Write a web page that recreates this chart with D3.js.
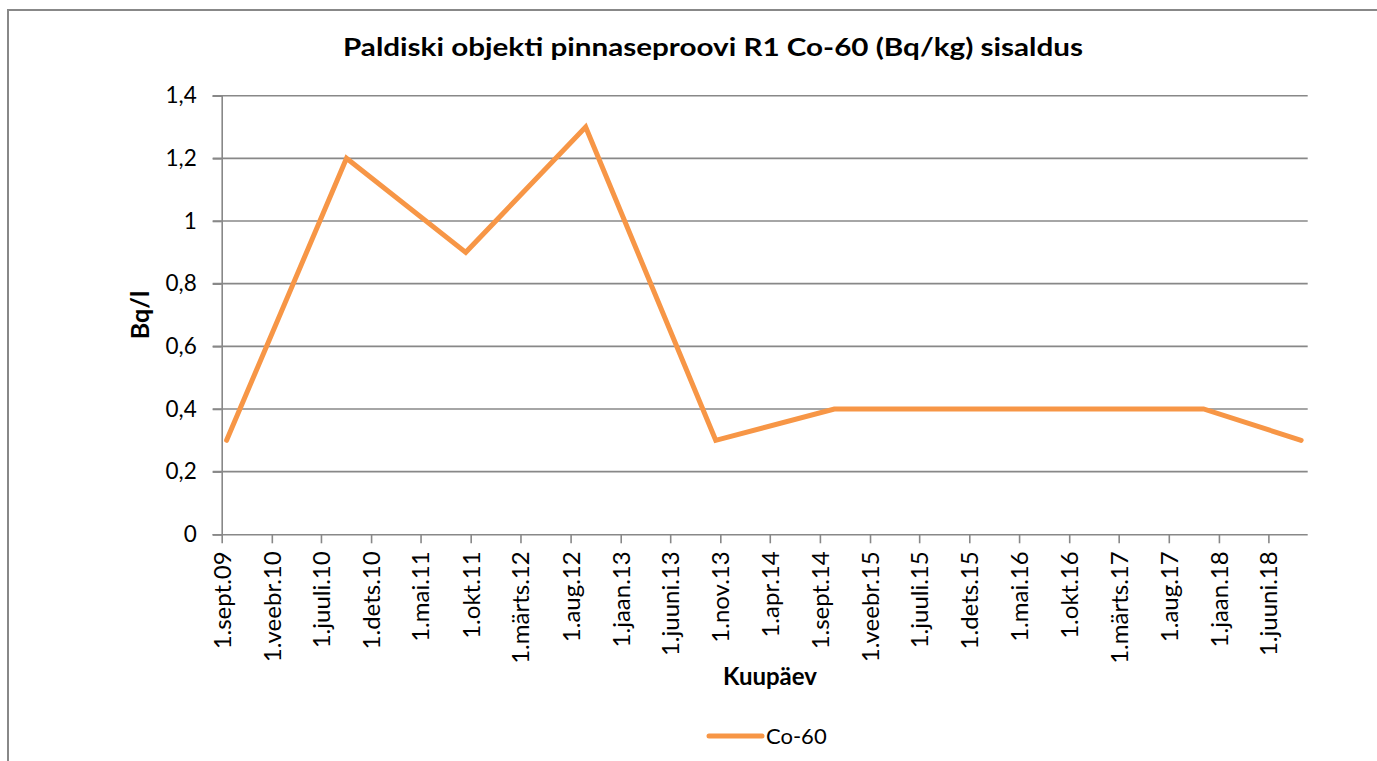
<!DOCTYPE html>
<html>
<head>
<meta charset="utf-8">
<script src="https://cdn.jsdelivr.net/npm/d3@7"></script>
<style>
  html, body { margin: 0; padding: 0; background: #fff; }
  svg { display: block; font-family: Lato, "Open Sans", sans-serif; }
</style>
</head>
<body>
<svg id="chart" width="1377" height="761"></svg>
<script>
// Sampling dates (yyyy-mm-dd) and Co-60 values
const sampleDates = ["2009-09-16", "2010-09-17", "2011-09-16", "2012-09-16", "2013-10-18",
                     "2014-10-15", "2015-10-15", "2016-10-15", "2017-11-15", "2018-09-09"];
const co60Values  = [0.3, 1.2, 0.9, 1.3, 0.3, 0.4, 0.4, 0.4, 0.4, 0.3];
const yTicks = [0, 0.2, 0.4, 0.6, 0.8, 1, 1.2, 1.4];
const monthNames = ["jaan", "veebr", "märts", "apr", "mai", "juuni",
                    "juuli", "aug", "sept", "okt", "nov", "dets"];
const seriesName = "Co-60";
const titleText = "Paldiski objekti pinnaseproovi R1 Co-60 (Bq/kg) sisaldus";
const xTitle = "Kuupäev";
const yTitle = "Bq/l";

const parse = d3.timeParse("%Y-%m-%d");
const data = sampleDates.map((d, i) => ({ date: parse(d), value: co60Values[i] }));

const svg = d3.select("#chart");
const plot = { left: 221.7, right: 1307.7, top: 95.7, bottom: 534.3 };
const axisColor = "#888888";
const lineColor = "#F79646";

// outer frame
svg.append("path")
  .attr("d", "M8,762 L8,10 L1378,10")
  .attr("fill", "none").attr("stroke", axisColor).attr("stroke-width", 2);

const x = d3.scaleTime()
  .domain([new Date(2009, 8, 1), new Date(2018, 8, 29)])
  .range([plot.left, plot.right]);
const y = d3.scaleLinear().domain([0, 1.4]).range([plot.bottom, plot.top]);

// horizontal gridlines
svg.append("g").selectAll("line").data(yTicks.filter(t => t > 0)).join("line")
  .attr("x1", plot.left - 9).attr("x2", plot.right)
  .attr("y1", d => y(d)).attr("y2", d => y(d))
  .attr("stroke", axisColor).attr("stroke-width", 1.6);

// y axis
const fmtY = v => String(v).replace(".", ",");
const yAxis = svg.append("g").attr("transform", `translate(${plot.left},0)`)
  .call(d3.axisLeft(y).tickValues(yTicks).tickFormat(fmtY).tickSize(9).tickPadding(16));
yAxis.select(".domain").attr("stroke", axisColor).attr("stroke-width", 1.6);
yAxis.selectAll(".tick line").attr("stroke", axisColor).attr("stroke-width", 1.6);
yAxis.selectAll(".tick text").attr("font-size", 22.5).attr("fill", "#000")
  .attr("font-family", "Lato, sans-serif");

// x axis: one tick every five months from the first of September 2009
const xTickDates = d3.timeMonth.range(new Date(2009, 8, 1), new Date(2018, 8, 2), 5);
const fmtX = d => `1.${monthNames[d.getMonth()]}.${String(d.getFullYear()).slice(2)}`;
const xAxis = svg.append("g").attr("transform", `translate(0,${plot.bottom})`)
  .call(d3.axisBottom(x).tickValues(xTickDates).tickFormat(fmtX).tickSize(9).tickSizeOuter(0));
xAxis.select(".domain").attr("stroke", axisColor).attr("stroke-width", 1.6)
  .attr("d", `M${plot.left - 9},0.5H${plot.right}`);
xAxis.selectAll(".tick line").attr("stroke", axisColor).attr("stroke-width", 1.6);
xAxis.selectAll(".tick text")
  .attr("font-size", 24).attr("fill", "#000").attr("font-family", "Lato, sans-serif")
  .attr("transform", "rotate(-90)")
  .attr("text-anchor", "end")
  .attr("x", -17).attr("y", 0).attr("dy", "0.35em");

// series line
svg.append("path").datum(data)
  .attr("d", d3.line().x(d => x(d.date)).y(d => y(d.value)))
  .attr("fill", "none").attr("stroke", lineColor).attr("stroke-width", 5)
  .attr("stroke-linejoin", "miter").attr("stroke-linecap", "round");

// titles
svg.append("text").attr("x", 713).attr("y", 56).attr("text-anchor", "middle")
  .attr("font-size", 25).attr("font-weight", "bold").attr("fill", "#000")
  .attr("textLength", 740).attr("lengthAdjust", "spacingAndGlyphs")
  .text(titleText);
svg.append("text").attr("x", 770).attr("y", 685).attr("text-anchor", "middle")
  .attr("font-size", 24).attr("font-weight", "bold").attr("fill", "#000")
  .text(xTitle);
svg.append("text").attr("transform", "translate(149,315) rotate(-90)")
  .attr("text-anchor", "middle")
  .attr("font-size", 25).attr("font-weight", "bold").attr("fill", "#000")
  .text(yTitle);

// legend
const legend = svg.append("g").attr("transform", "translate(709,736)");
legend.append("line").attr("x1", 0).attr("x2", 53).attr("y1", 0).attr("y2", 0)
  .attr("stroke", lineColor).attr("stroke-width", 5).attr("stroke-linecap", "round");
legend.append("text").attr("x", 57).attr("y", 0).attr("dy", "0.35em")
  .attr("font-size", 22).attr("fill", "#000").text(seriesName);
</script>
</body>
</html>
